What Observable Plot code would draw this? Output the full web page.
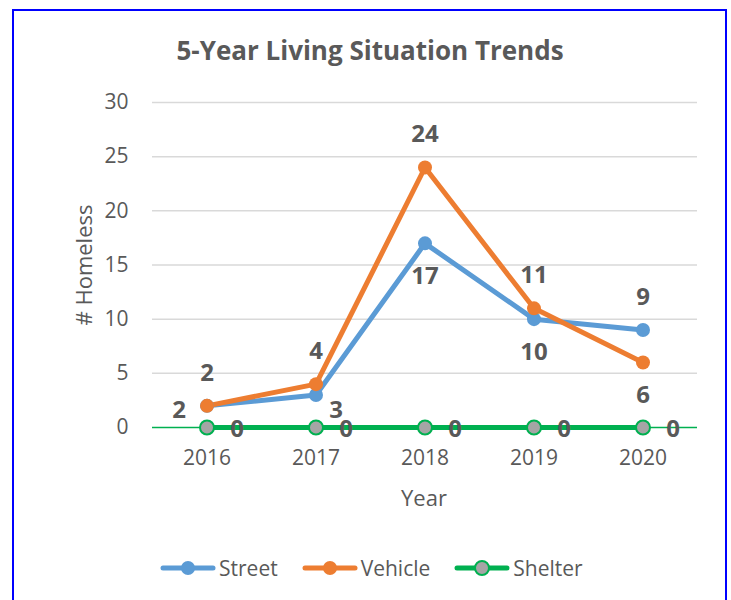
<!DOCTYPE html>
<html>
<head>
<meta charset="utf-8">
<script src="https://cdn.jsdelivr.net/npm/d3@7"></script>
<script src="https://cdn.jsdelivr.net/npm/@observablehq/plot@0.6"></script>
<style>
  html, body { margin: 0; padding: 0; background: #fff; }
  body { width: 731px; height: 600px; position: relative; overflow: hidden; font-family: "Open Sans", sans-serif; }
  #frame { position: absolute; left: 12px; top: 9px; width: 715px; height: 620px; border: 2px solid #0000ff; box-sizing: border-box; }
  #chart { position: absolute; left: 0; top: 0; }
  .txt { position: absolute; color: #595959; white-space: nowrap; }
  #title { left: 0; width: 740px; text-align: center; top: 32px; font-size: 26px; font-weight: bold; }
  #ylab { left: 83px; top: 265px; font-size: 22px; transform: translate(-50%, -50%) rotate(-90deg); }
  #xlab { left: 424px; top: 497px; font-size: 22px; transform: translate(-50%, -50%); }
  #legend { position: absolute; top: 554px; left: 160px; display: flex; align-items: center; font-size: 21px; color: #595959; }
  .item { display: flex; align-items: center; margin-right: 24px; }
  .item svg { margin-right: 3px; }
</style>
</head>
<body>
<div id="frame"></div>
<div id="chart"></div>
<div id="title" class="txt">5-Year Living Situation Trends</div>
<div id="ylab" class="txt"># Homeless</div>
<div id="xlab" class="txt">Year</div>
<div id="legend"></div>
<script>
const years = ["2016", "2017", "2018", "2019", "2020"];
const seriesNames = ["Street", "Vehicle", "Shelter"];
const street = [2, 3, 17, 10, 9];
const vehicle = [2, 4, 24, 11, 6];
const shelter = [0, 0, 0, 0, 0];
const yTicks = [0, 5, 10, 15, 20, 25, 30];
const streetLabelPos = ["left", "belowRight", "below", "below", "above"];
const vehicleLabelPos = ["above", "above", "above", "above", "below"];
const shelterLabelPos = ["right", "right", "right", "right", "right"];

const colors = { Street: "#5B9BD5", Vehicle: "#ED7D31", Shelter: "#00B050" };
const markerFill = { Street: "#5B9BD5", Vehicle: "#ED7D31", Shelter: "#A5A5A5" };

const values = { Street: street, Vehicle: vehicle, Shelter: shelter };
const positions = { Street: streetLabelPos, Vehicle: vehicleLabelPos, Shelter: shelterLabelPos };
const rows = [];
for (const s of seriesNames) {
  years.forEach((yr, i) => rows.push({ series: s, year: yr, value: values[s][i], pos: positions[s][i] }));
}
const offsets = {
  above: [0, -33], below: [0, 33], left: [-28, 4], right: [30, 2], belowRight: [20, 15]
};

const lineMarks = [];
for (const s of ["Shelter", "Street", "Vehicle"]) {
  const d = rows.filter(r => r.series === s);
  lineMarks.push(Plot.line(d, { x: "year", y: "value", stroke: colors[s], strokeWidth: 5, curve: "linear" }));
}
const dotMarks = [];
for (const s of ["Shelter", "Street", "Vehicle"]) {
  const d = rows.filter(r => r.series === s);
  dotMarks.push(Plot.dot(d, { x: "year", y: "value", r: 7, fill: markerFill[s], stroke: s === "Shelter" ? colors.Shelter : "none", strokeWidth: 2 }));
}
const labelMarks = [];
for (const key of Object.keys(offsets)) {
  const d = rows.filter(r => r.pos === key);
  labelMarks.push(Plot.text(d, {
    x: "year", y: "value", text: d => String(d.value),
    dx: offsets[key][0], dy: offsets[key][1],
    fontSize: 24, fontWeight: "bold", fill: "#404040"
  }));
}

const chart = Plot.plot({
  width: 731,
  height: 600,
  marginLeft: 152,
  marginRight: 34,
  marginTop: 102,
  marginBottom: 173,
  style: { fontFamily: "Open Sans, sans-serif", fontSize: "21px", color: "#595959", background: "transparent" },
  x: { type: "band", domain: years, padding: 0, label: null, tickSize: 0, tickPadding: 23 },
  y: { domain: [0, 30], ticks: yTicks, label: null, tickSize: 0, tickPadding: 24 },
  marks: [
    Plot.ruleY(yTicks.filter(t => t > 0), { stroke: "#D9D9D9", strokeWidth: 1.5 }),
    Plot.ruleY([0], { stroke: colors.Shelter, strokeWidth: 1.5 }),
    ...lineMarks,
    ...dotMarks,
    ...labelMarks
  ]
});
chart.querySelectorAll("text").forEach(t => { if (!t.getAttribute("fill")) t.setAttribute("fill", "#595959"); });
document.getElementById("chart").appendChild(chart);

const legend = document.getElementById("legend");
for (const s of seriesNames) {
  const item = document.createElement("div");
  item.className = "item";
  const ns = "http://www.w3.org/2000/svg";
  const svg = document.createElementNS(ns, "svg");
  svg.setAttribute("width", 56); svg.setAttribute("height", 20);
  const ln = document.createElementNS(ns, "line");
  ln.setAttribute("x1", 3); ln.setAttribute("x2", 53); ln.setAttribute("y1", 10); ln.setAttribute("y2", 10);
  ln.setAttribute("stroke", colors[s]); ln.setAttribute("stroke-width", 5); ln.setAttribute("stroke-linecap", "round");
  const c = document.createElementNS(ns, "circle");
  c.setAttribute("cx", 28); c.setAttribute("cy", 10); c.setAttribute("r", 7);
  c.setAttribute("fill", markerFill[s]);
  if (s === "Shelter") { c.setAttribute("stroke", colors.Shelter); c.setAttribute("stroke-width", 2); }
  svg.appendChild(ln); svg.appendChild(c);
  const label = document.createElement("span");
  label.textContent = s;
  item.appendChild(svg); item.appendChild(label);
  legend.appendChild(item);
}
</script>
</body>
</html>
